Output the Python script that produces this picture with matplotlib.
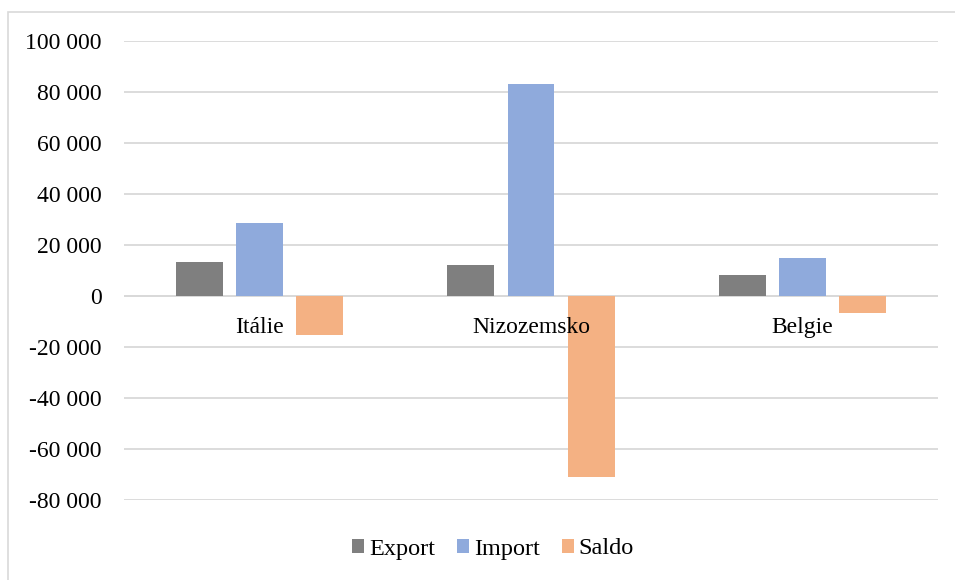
import numpy as np
import matplotlib.pyplot as plt
from matplotlib.patches import Rectangle
from matplotlib.ticker import FuncFormatter

countries = ["Itálie", "Nizozemsko", "Belgie"]
export = [13500, 12200, 8200]
imports = [28600, 83100, 14800]
saldo = [-15100, -70900, -6600]

series_names = ["Export", "Import", "Saldo"]
colors = ["#7f7f7f", "#8faadc", "#f4b183"]

plt.rcParams['font.family'] = ['Liberation Serif', 'DejaVu Serif']

fig = plt.figure(figsize=(9.55, 5.8), dpi=100)
W, H = 955, 580
ax = fig.add_axes([124 / W, 1 - 500 / H, (938 - 124) / W, (500 - 41) / H])

# outer chart frame (like Excel chart area border)
fig.patches.append(Rectangle((8 / W, -0.05), 1.1, 1 - 12 / H + 0.05,
                             transform=fig.transFigure, fill=False,
                             edgecolor="#d9d9d9", linewidth=1.2))

x = np.arange(len(countries))
width = 0.173
offset = 0.222
for k, (vals, name, c) in enumerate(zip([export, imports, saldo], series_names, colors)):
    ax.bar(x + (k - 1) * offset, vals, width, color=c, label=name, zorder=3)

ax.set_xlim(-0.5, 2.5)
ax.set_ylim(-80000, 100000)
ax.set_yticks(np.arange(-80000, 100001, 20000))
ax.yaxis.set_major_formatter(FuncFormatter(lambda v, p: f"{int(v):,}".replace(",", " ")))
ax.grid(axis="y", color="#d9d9d9", linewidth=1.3, zorder=0)
ax.tick_params(axis="y", length=0, pad=16, labelsize=17)
ax.set_xticks([])
for s in ax.spines.values():
    s.set_visible(False)
ax.axhline(0, color="#d9d9d9", linewidth=1.3, zorder=2)

for i, name in enumerate(countries):
    ax.annotate(name, (i, 0), xytext=(0, -15), textcoords="offset points",
                ha="center", va="top", fontsize=17)

leg = fig.legend(loc="center", bbox_to_anchor=(493 / W, 1 - 549 / H), ncol=3,
                 frameon=False, fontsize=17.5, handlelength=0.5, handleheight=0.5,
                 handletextpad=0.2, columnspacing=0.9)

fig.savefig("out.png", dpi=100)
